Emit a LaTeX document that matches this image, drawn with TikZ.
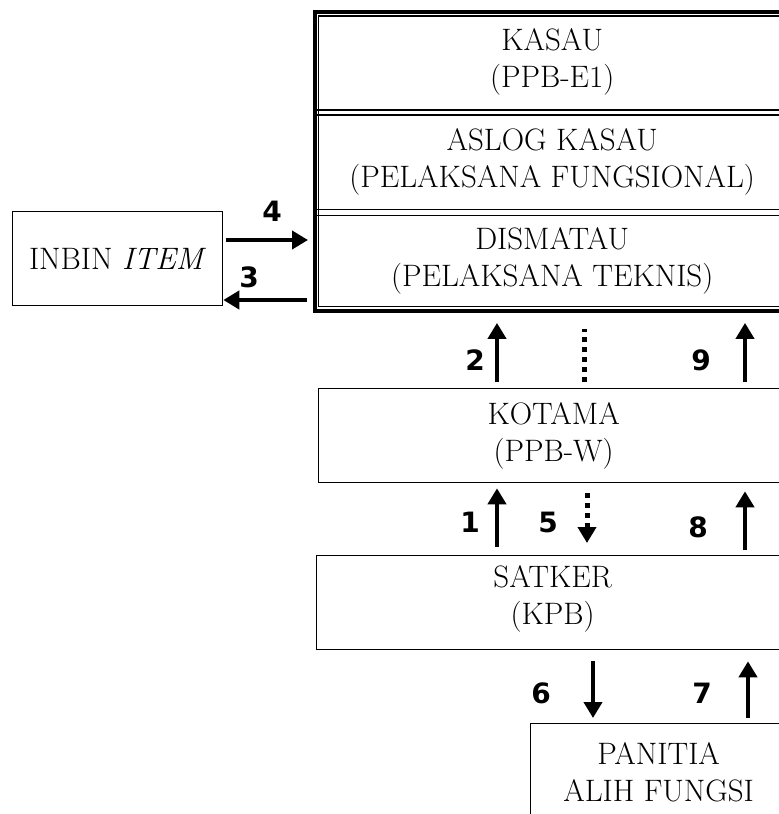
\documentclass[tikz,border=0pt]{standalone}
\usepackage{fontspec}
\newfontfamily\numfont{DejaVu Sans}
\usetikzlibrary{positioning,arrows.meta}

\begin{document}
\begin{tikzpicture}[x=1pt, y=-1pt, node distance={99.5pt},
  box/.style = {draw, rectangle, line width=1.3pt, inner sep=0pt, align=center, font=\fontsize{31}{37}\selectfont},
  cell/.style = {rectangle, inner sep=0pt, minimum width=474pt, minimum height=99.5pt, align=center, font=\fontsize{31}{37}\selectfont},
  num/.style = {inner sep=0pt, font=\numfont\bfseries\fontsize{28}{28}\selectfont},
  flow/.style = {->, >={Triangle[length=16pt,width=18pt]}, line width=4.5pt},
  dots/.style = {line width=5pt, dash pattern=on 5pt off 5pt}]
\useasboundingbox (0,0) rectangle (779,814);

\node[cell, anchor=north west] (kasau) at (315,12) {KASAU\\(PPB-E1)};
\node[cell] (aslog) [below of=kasau] {ASLOG KASAU\\(PELAKSANA FUNGSIONAL)};
\node[cell] (dismatau) [below of=aslog] {DISMATAU\\(PELAKSANA TEKNIS)};
\coordinate (edge) at (779,0);

% frame, open to the right (cut off by the page)
\draw[line width=4.5pt] (edge |- kasau.north) -- (kasau.north west) -- (dismatau.south west) -- (edge |- dismatau.south);
\draw[line width=1.2pt] ([yshift=-4pt]edge |- kasau.north) -- ([shift={(3.5pt,-4pt)}]kasau.north west) -- ([shift={(3.5pt,4.5pt)}]dismatau.south west) -- ([yshift=4.5pt]edge |- dismatau.south);
\draw[line width=1.2pt] ([yshift=2pt]kasau.south west) -- ([yshift=2pt]edge |- kasau.south)
  ([yshift=-3pt]kasau.south west) -- ([yshift=-3pt]edge |- kasau.south);
\draw[line width=1.2pt] ([yshift=2pt]aslog.south west) -- ([yshift=2pt]edge |- aslog.south)
  ([yshift=-4pt]aslog.south west) -- ([yshift=-4pt]edge |- aslog.south);

\node[box, anchor=north west, minimum width=210pt, minimum height=94pt] (inbin) at (12,211) {INBIN \textit{ITEM}};
\node[box, anchor=north west, minimum width=470pt, minimum height=94pt] (kotama) at (318,388) {KOTAMA\\(PPB-W)};
\node[box, anchor=north west, minimum width=472pt, minimum height=94pt, text depth=16pt] (satker) at (316,555) {SATKER\\(KPB)};
\node[box, anchor=north west, minimum width=256pt, minimum height=97pt] (panitia) at (530,723) {PANITIA\\ALIH FUNGSI};

\draw[flow, shorten <=3pt, shorten >=7pt] (inbin.east |- 0,240) -- (dismatau.west |- 0,240);
\draw[flow, shorten <=8pt] (dismatau.west |- 0,300) -- (inbin.east |- 0,300);

\draw[flow, shorten <=6pt, shorten >=12pt] (497,0 |- kotama.north) -- (497,0 |- dismatau.south);
\draw[dots, shorten <=6pt, shorten >=18pt] (584,0 |- kotama.north) -- (584,0 |- dismatau.south);
\draw[flow, shorten <=6pt, shorten >=12pt] (745,0 |- kotama.north) -- (745,0 |- dismatau.south);

\draw[flow, shorten <=8pt, shorten >=5pt] (497,0 |- satker.north) -- (497,0 |- kotama.south);
\draw[flow, dots, shorten <=10pt, shorten >=12pt] (587,0 |- kotama.south) -- (587,0 |- satker.north);
\draw[flow, shorten <=5pt, shorten >=8pt] (745,0 |- satker.north) -- (745,0 |- kotama.south);

\draw[flow, shorten <=11pt, shorten >=5pt] (593,0 |- satker.south) -- (593,0 |- panitia.north);
\draw[flow, shorten <=5pt, shorten >=11pt] (748,0 |- panitia.north) -- (748,0 |- satker.south);

\node[num] (n4) at (272,211) {4};
\node[num] (n3) at (249,277) {3};
\node[num] (n2) at (475,360) {2};
\node[num] (n9) at (701,360) {9};
\node[num] (n1) at (470,522) {1};
\node[num] (n5) at (548,522) {5};
\node[num] (n8) at (698,527) {8};
\node[num] (n6) at (541,693) {6};
\node[num] (n7) at (702,693) {7};

\end{tikzpicture}
\end{document}
